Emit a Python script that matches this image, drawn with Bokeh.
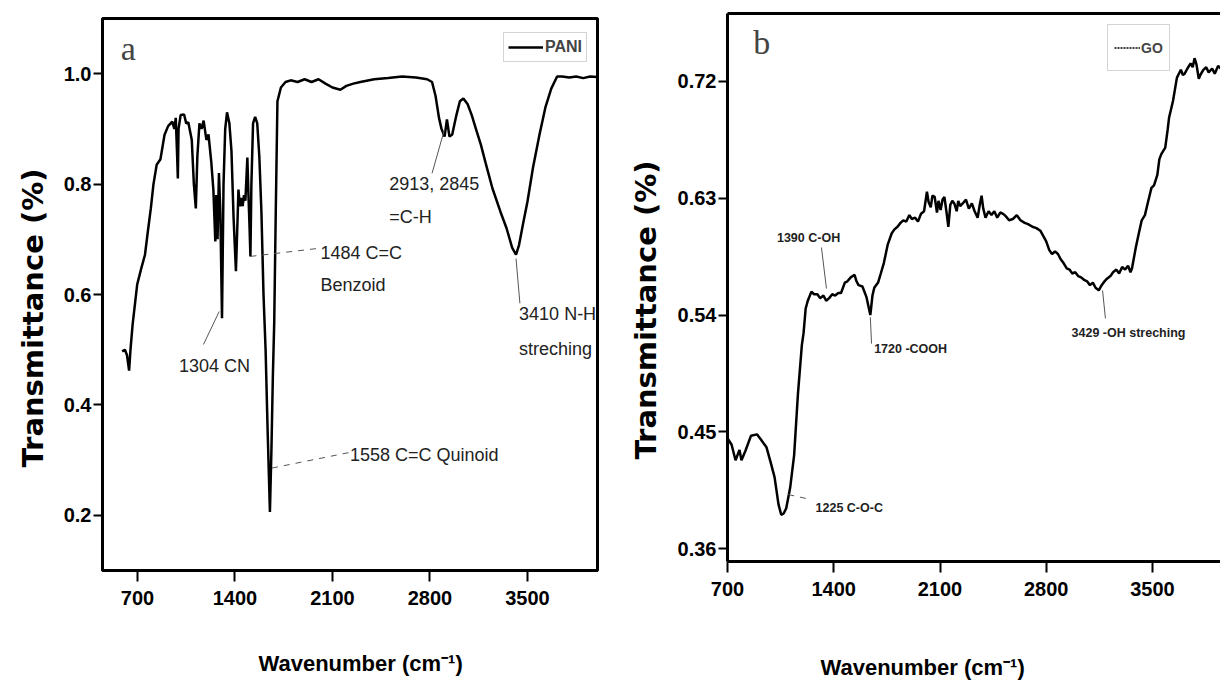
from bokeh.plotting import figure
from bokeh.models import (Range1d, FixedTicker, NumeralTickFormatter, Label,
                          Legend, LegendItem, LinearAxis, Title)
from bokeh.layouts import row, column
from bokeh.embed import file_html
from bokeh.resources import INLINE

# ---------------- data ----------------
pani_wavenumber = [590, 610, 625, 640, 650, 665, 698, 725, 754, 775, 796, 815, 838, 865,
                   894, 920, 950, 965, 975, 985, 990, 995, 1010, 1035, 1050, 1065, 1090,
                   1105, 1119, 1130, 1145, 1160, 1175, 1195, 1210, 1230, 1245, 1259, 1266,
                   1275, 1285, 1295, 1307, 1318, 1330, 1343, 1360, 1375, 1390, 1407, 1418,
                   1425, 1435, 1445, 1455, 1465, 1475, 1489, 1497, 1505, 1511, 1518, 1530,
                   1545, 1560, 1575, 1590, 1605, 1620, 1635, 1651, 1662, 1672, 1682, 1693,
                   1705, 1730, 1763, 1800, 1850, 1900, 1950, 2000, 2050, 2100, 2157, 2200,
                   2250, 2300, 2400, 2500, 2600, 2700, 2780, 2815, 2840, 2865, 2883, 2905,
                   2922, 2940, 2960, 2990, 3015, 3040, 3070, 3100, 3130, 3166, 3200, 3249,
                   3306, 3350, 3390, 3418, 3440, 3470, 3500, 3540, 3586, 3630, 3671, 3713,
                   3750, 3800, 3850, 3900, 3950, 4000]
pani_transmittance = [0.497, 0.500, 0.490, 0.462, 0.500, 0.545, 0.618, 0.645, 0.672, 0.715,
                      0.756, 0.800, 0.835, 0.845, 0.889, 0.905, 0.913, 0.900, 0.920, 0.850,
                      0.810, 0.900, 0.925, 0.926, 0.910, 0.912, 0.880, 0.800, 0.756, 0.850,
                      0.910, 0.900, 0.915, 0.880, 0.890, 0.840, 0.790, 0.696, 0.780, 0.700,
                      0.820, 0.750, 0.557, 0.800, 0.900, 0.930, 0.910, 0.860, 0.740, 0.642,
                      0.730, 0.790, 0.760, 0.775, 0.760, 0.780, 0.770, 0.848, 0.780, 0.720,
                      0.669, 0.800, 0.910, 0.922, 0.910, 0.850, 0.750, 0.600, 0.500, 0.350,
                      0.206, 0.320, 0.450, 0.550, 0.750, 0.950, 0.975, 0.985, 0.988, 0.985,
                      0.990, 0.985, 0.990, 0.982, 0.975, 0.971, 0.978, 0.982, 0.985, 0.990,
                      0.992, 0.995, 0.993, 0.990, 0.985, 0.960, 0.920, 0.900, 0.886, 0.917,
                      0.886, 0.890, 0.925, 0.950, 0.955, 0.945, 0.925, 0.900, 0.871, 0.838,
                      0.792, 0.750, 0.720, 0.685, 0.672, 0.690, 0.730, 0.768, 0.830, 0.889,
                      0.940, 0.973, 0.995, 0.995, 0.993, 0.995, 0.992, 0.995, 0.994]

go_wavenumber = [700, 727, 753, 779, 792, 817, 855, 894, 920, 957, 983, 1010, 1036, 1054,
                 1070, 1087, 1113, 1139, 1164, 1190, 1201, 1215, 1229, 1253, 1270, 1292,
                 1310, 1332, 1350, 1370, 1390, 1409, 1430, 1448, 1473, 1490, 1512, 1537,
                 1550, 1563, 1589, 1615, 1630, 1641, 1655, 1667, 1692, 1710, 1730, 1755,
                 1782, 1800, 1820, 1840, 1858, 1878, 1898, 1915, 1936, 1955, 1975, 1995,
                 2014, 2025, 2039, 2050, 2065, 2080, 2090, 2104, 2117, 2129, 2142, 2155,
                 2168, 2181, 2194, 2210, 2220, 2233, 2250, 2271, 2290, 2310, 2328, 2348,
                 2362, 2374, 2385, 2400, 2420, 2439, 2458, 2477, 2497, 2516, 2535, 2555,
                 2580, 2606, 2630, 2658, 2680, 2709, 2735, 2761, 2780, 2799, 2820, 2838,
                 2858, 2877, 2895, 2914, 2935, 2953, 2972, 2991, 3010, 3030, 3050, 3069,
                 3088, 3107, 3125, 3146, 3165, 3184, 3200, 3223, 3240, 3262, 3280, 3300,
                 3320, 3339, 3355, 3365, 3390, 3410, 3429, 3450, 3468, 3493, 3510, 3532,
                 3545, 3558, 3584, 3600, 3609, 3635, 3661, 3687, 3700, 3712, 3730, 3751,
                 3765, 3777, 3790, 3805, 3815, 3835, 3854, 3870, 3893, 3910, 3932, 3950]
go_transmittance = [0.445, 0.440, 0.428, 0.436, 0.428, 0.435, 0.447, 0.448, 0.444, 0.438,
                    0.427, 0.415, 0.394, 0.386, 0.387, 0.391, 0.407, 0.432, 0.479, 0.517,
                    0.526, 0.545, 0.551, 0.558, 0.556, 0.556, 0.553, 0.555, 0.551, 0.553,
                    0.556, 0.555, 0.557, 0.557, 0.565, 0.566, 0.569, 0.571, 0.566, 0.563,
                    0.562, 0.554, 0.546, 0.540, 0.555, 0.561, 0.565, 0.572, 0.580, 0.594,
                    0.603, 0.606, 0.608, 0.611, 0.613, 0.612, 0.617, 0.614, 0.615, 0.612,
                    0.618, 0.620, 0.635, 0.627, 0.623, 0.632, 0.631, 0.619, 0.628, 0.621,
                    0.629, 0.631, 0.620, 0.608, 0.625, 0.628, 0.626, 0.620, 0.628, 0.624,
                    0.626, 0.629, 0.622, 0.626, 0.620, 0.615, 0.625, 0.632, 0.622, 0.615,
                    0.620, 0.617, 0.620, 0.615, 0.619, 0.618, 0.616, 0.613, 0.614, 0.617,
                    0.613, 0.611, 0.610, 0.608, 0.607, 0.605, 0.601, 0.597, 0.590, 0.587,
                    0.589, 0.587, 0.583, 0.580, 0.576, 0.575, 0.572, 0.573, 0.570, 0.569,
                    0.567, 0.566, 0.563, 0.565, 0.561, 0.559, 0.563, 0.566, 0.568, 0.570,
                    0.573, 0.575, 0.572, 0.577, 0.575, 0.578, 0.573, 0.576, 0.592, 0.603,
                    0.613, 0.617, 0.626, 0.638, 0.640, 0.648, 0.660, 0.664, 0.669, 0.683,
                    0.692, 0.705, 0.723, 0.729, 0.725, 0.726, 0.730, 0.734, 0.731, 0.738,
                    0.733, 0.722, 0.725, 0.729, 0.731, 0.727, 0.730, 0.726, 0.732, 0.730]

x_ticks = [700, 1400, 2100, 2800, 3500]
pani_y_ticks = [0.2, 0.4, 0.6, 0.8, 1.0]
go_y_ticks = [0.36, 0.45, 0.54, 0.63, 0.72]

# annotations: (text, x, y, align)
pani_notes = [("1304 CN", 1253, 0.470, "center"),
              ("1484 C=C", 2014, 0.676, "left"),
              ("Benzoid", 2014, 0.618, "left"),
              ("2913, 2845", 2507, 0.800, "left"),
              ("=C-H", 2507, 0.741, "left"),
              ("3410 N-H", 3440, 0.564, "left"),
              ("streching", 3440, 0.502, "left"),
              ("1558 C=C Quinoid", 2226, 0.309, "left")]
# leaders: (x0, y0, x1, y1, dash)
pani_leaders = [(1174, 0.5095, 1287, 0.5692, "solid"),
                (1511, 0.669, 2014, 0.684, "dashed"),
                (2815, 0.8195, 2904, 0.8986, "solid"),
                (3418, 0.665, 3446, 0.584, "solid"),
                (1666, 0.2856, 2226, 0.314, "dashed")]
go_notes = [("1390 C-OH", 1234, 0.599, "center"),
            ("1720 -COOH", 1666, 0.514, "left"),
            ("3429 -OH streching", 3342, 0.5265, "center"),
            ("1225 C-O-C", 1280, 0.3915, "left")]
go_leaders = [(1319, 0.592, 1352, 0.5604, "solid"),
              (1641, 0.5383, 1649, 0.518, "solid"),
              (3171, 0.5589, 3190, 0.5373, "solid"),
              (1100, 0.4016, 1253, 0.3977, "dashed")]

SANS = "Liberation Sans"
WIDE = "DejaVu Sans"
SERIF = "Liberation Serif"


def base_style(p, yticks, yfmt):
    p.background_fill_color = "white"
    p.border_fill_color = "white"
    p.xgrid.visible = False
    p.ygrid.visible = False
    for ax in (p.xaxis[0], p.yaxis[0]):
        ax.axis_line_width = 3
        ax.axis_line_color = "black"
        ax.major_tick_line_width = 2
        ax.major_tick_in = 0
        ax.minor_tick_line_color = None
        ax.major_label_text_font = SANS
        ax.major_label_text_font_style = "bold"
        ax.major_label_text_font_size = "20px"
        ax.major_label_text_color = "black"
    p.xaxis[0].major_tick_out = 11
    p.yaxis[0].major_tick_out = 9
    p.xaxis[0].ticker = FixedTicker(ticks=x_ticks)
    p.yaxis[0].ticker = FixedTicker(ticks=yticks)
    p.yaxis[0].formatter = NumeralTickFormatter(format=yfmt)
    p.xaxis[0].major_label_standoff = 9
    p.yaxis[0].major_label_standoff = 2


def add_notes(p, notes, leaders, size, style):
    for (x0, y0, x1, y1, dash) in leaders:
        p.segment(x0=[x0], y0=[y0], x1=[x1], y1=[y1], line_color="#555555",
                  line_width=1, line_dash=dash)
    for (t, x, y, al) in notes:
        p.add_layout(Label(x=x, y=y, text=t, text_font=SANS, text_font_size=size,
                           text_font_style=style, text_align=al, text_baseline="middle",
                           text_color="#222222"))


def axis_titles(p, ytext_offset, ystandoff, xtext_offset, xline_height):
    p.add_layout(Title(text="Transmittance (%)", align="left", offset=ytext_offset,
                       text_font=WIDE, text_font_style="bold", text_font_size="29px",
                       text_color="black", standoff=ystandoff), "left")
    p.add_layout(Title(text="\n\nWavenumber (cm\u207b\u00b9)", align="left",
                       vertical_align="top", offset=xtext_offset, text_font=SANS,
                       text_font_style="bold", text_font_size="22px", text_color="black",
                       text_line_height=xline_height, standoff=0), "below")


# ---------------- panel a ----------------
p1 = figure(width=610, height=688, output_backend="svg", toolbar_location=None,
            x_range=Range1d(449, 4003), y_range=Range1d(0.1, 1.1),
            min_border_left=102, min_border_right=13, min_border_top=18,
            min_border_bottom=118)
base_style(p1, pani_y_ticks, "0.0")
p1.outline_line_color = "black"
p1.outline_line_width = 3
r1 = p1.line(pani_wavenumber, pani_transmittance, line_color="black", line_width=2.5)
add_notes(p1, pani_notes, pani_leaders, "18px", "normal")
leg1 = Legend(items=[LegendItem(label="PANI", renderers=[r1])], location=(401, 508),
              label_text_font=SANS, label_text_font_style="bold",
              label_text_font_size="16px", glyph_width=35, glyph_height=20,
              label_height=20, label_standoff=2, padding=4, spacing=0, margin=0,
              border_line_color="#aaaaaa", border_line_width=1.5)
p1.add_layout(leg1)
p1.add_layout(Label(x=580, y=1.045, text="a", text_font=SERIF, text_font_size="34px",
                    text_align="left", text_baseline="middle"))
axis_titles(p1, 103, 22, 156, 0.864)

# ---------------- panel b ----------------
p2 = figure(width=610, height=688, output_backend="svg", toolbar_location=None,
            x_range=Range1d(700, 3948), y_range=Range1d(0.35, 0.7724),
            min_border_left=117, min_border_right=0, min_border_top=13,
            min_border_bottom=127)
base_style(p2, go_y_ticks, "0.00")
p2.outline_line_color = None
top_axis = LinearAxis(axis_line_width=3, axis_line_color="black",
                      major_tick_line_color=None, minor_tick_line_color=None,
                      major_label_text_font_size="0px", ticker=FixedTicker(ticks=[]))
p2.add_layout(top_axis, "above")
r2 = p2.line(go_wavenumber, go_transmittance, line_color="black", line_width=2.5)
r2_leg = p2.line(go_wavenumber[:1], go_transmittance[:1], line_color="black",
                 line_width=1.5, line_dash="2 1")
add_notes(p2, go_notes, go_leaders, "12.5px", "bold")
leg2 = Legend(items=[LegendItem(label="GO", renderers=[r2_leg])], location=(380, 490),
              label_text_font=SANS, label_text_font_style="bold",
              label_text_font_size="14px", glyph_width=26, glyph_height=33,
              label_height=33, label_standoff=1, padding=6, spacing=0, margin=0,
              border_line_color="#aaaaaa", border_line_width=1.5)
p2.add_layout(leg2)
p2.add_layout(Label(x=870, y=0.75, text="b", text_font=SERIF, text_font_size="34px",
                    text_align="left", text_baseline="middle"))
axis_titles(p2, 102, 24, 93, 1.136)

layout = row(column(p1), column(p2))
open("out.html", "w").write(file_html(layout, INLINE))
